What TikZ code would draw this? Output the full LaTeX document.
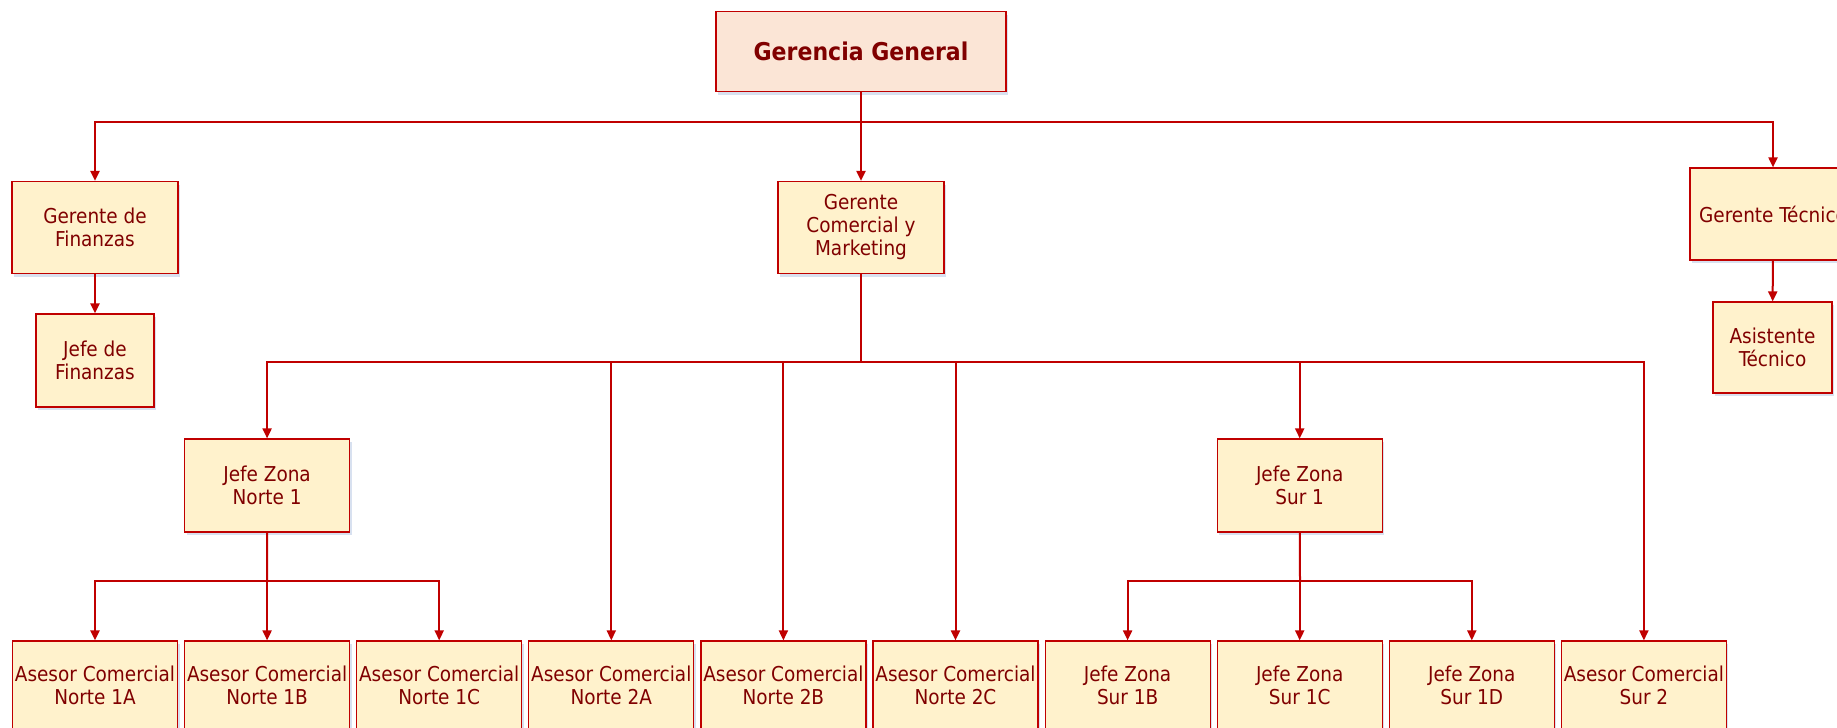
\documentclass[tikz,border=0pt]{standalone}
\usepackage{fontspec}
\setmainfont{DejaVu Sans Condensed}
\usetikzlibrary{arrows.meta,shadows}
\definecolor{lineRed}{RGB}{192,0,0}
\definecolor{textRed}{RGB}{128,0,0}
\definecolor{boxFill}{RGB}{255,242,204}
\definecolor{bossFill}{RGB}{251,229,214}
\definecolor{shadowBlue}{RGB}{190,205,230}

\begin{document}
\begin{tikzpicture}[x=1pt,y=1pt,color=lineRed,line width=2pt,
                    >={Triangle[length=10pt,width=9pt]},node distance=172.1pt]
\tikzstyle{box}=[draw=lineRed,line width=1.2pt,fill=boxFill,text=textRed,
                 align=center,inner sep=1pt,minimum width=166pt,minimum height=92pt,
                 drop shadow={shadow xshift=2pt,shadow yshift=-3pt,fill=shadowBlue,opacity=0.6}]
\tikzset{font=\fontsize{20.5pt}{23pt}\selectfont}

\useasboundingbox (0,0) rectangle (1837,-728);

        % top levels
        \node[box,fill=bossFill,minimum width=290pt,minimum height=80pt,
              font=\fontsize{24.5pt}{28pt}\selectfont\bfseries]   (gg)  at (861,-51.5)    {Gerencia General};
        \node[box]                                            (gf)  at (95,-227.5)    {Gerente de\\Finanzas};
        \node[box,minimum width=118pt,minimum height=93pt]    (jf)  at (95,-360.5)    {Jefe de\\Finanzas};
        \node[box]                                            (gcm) at (861,-227.5)   {Gerente\\Comercial y\\Marketing};
        \node[box]                                            (gt)  at (1773,-214)    {Gerente T\'ecnico};
        \node[box,minimum width=119pt,minimum height=91pt]    (at)  at (1772.5,-347.5) {Asistente\\T\'ecnico};

        % bottom row
        \node[box,minimum width=165pt,minimum height=88pt]      (an1a)  at (95,-685)    {Asesor Comercial\\Norte 1A};
        \node[box,minimum width=165pt,minimum height=88pt]      (an1b)  [right of=an1a] {Asesor Comercial\\Norte 1B};
        \node[box,minimum width=165pt,minimum height=88pt]      (an1c)  [right of=an1b] {Asesor Comercial\\Norte 1C};
        \node[box,minimum width=165pt,minimum height=88pt]      (an2a)  [right of=an1c] {Asesor Comercial\\Norte 2A};
        \node[box,minimum width=165pt,minimum height=88pt]      (an2b)  [right of=an2a] {Asesor Comercial\\Norte 2B};
        \node[box,minimum width=165pt,minimum height=88pt]      (an2c)  [right of=an2b] {Asesor Comercial\\Norte 2C};
        \node[box,minimum width=165pt,minimum height=88pt]      (js1b)  [right of=an2c] {Jefe Zona\\Sur 1B};
        \node[box,minimum width=165pt,minimum height=88pt]      (js1c)  [right of=js1b] {Jefe Zona\\Sur 1C};
        \node[box,minimum width=165pt,minimum height=88pt]      (js1d)  [right of=js1c] {Jefe Zona\\Sur 1D};
        \node[box,minimum width=165pt,minimum height=88pt]      (as2)   [right of=js1d] {Asesor Comercial\\Sur 2};

        % zone heads
        \node[box,minimum width=165pt,minimum height=93pt,node distance=199.5pt] (jzn) [above of=an1b] {Jefe Zona\\Norte 1};
        \node[box,minimum width=165pt,minimum height=93pt,node distance=199.5pt] (jzs) [above of=js1c] {Jefe Zona\\Sur 1};

        % bus points
        \coordinate (bus0) at (861,-122);
        \coordinate (bus1) at (861,-362);
        \coordinate (busN) at (267,-581);
        \coordinate (busS) at (1300,-581);

        \draw (gg) -- (bus0);
        \draw[->] (bus0) -| (gf);
        \draw[->] (bus0) -- (gcm);
        \draw[->] (bus0) -| (gt);
        \draw[->] (gf) -- (jf);
        \draw[->] (gt) -- (at);

        \draw (gcm) -- (bus1);
        \foreach \n in {jzn,an2a,an2b,an2c,jzs,as2}
          \draw[->] (bus1) -| (\n);

        \draw (jzn) -- (busN);
        \foreach \n in {an1a,an1b,an1c}
          \draw[->] (busN) -| (\n);

        \draw (jzs) -- (busS);
        \foreach \n in {js1b,js1c,js1d}
          \draw[->] (busS) -| (\n);

\end{tikzpicture}
\end{document}
